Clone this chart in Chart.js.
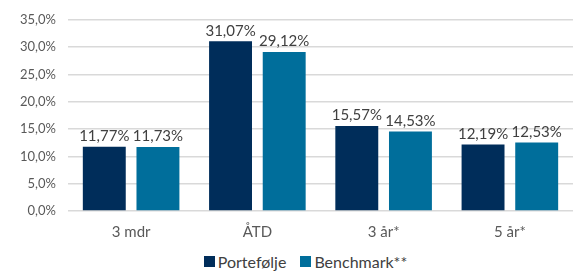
<!DOCTYPE html>
<html>
<head>
<meta charset="utf-8">
<script src="https://cdn.jsdelivr.net/npm/chart.js@4"></script>
<style>
  html, body { margin: 0; padding: 0; background: #fff; overflow: hidden; }
  #wrap { width: 575px; height: 245px; }
  #legend { width: 575px; height: 26px; display: flex; justify-content: center; align-items: center;
            font-family: Lato, sans-serif; font-size: 16px; color: #404040;
            padding-left: 36px; padding-top: 6px; box-sizing: border-box; }
  #legend span { display: inline-flex; align-items: center; margin: 0 7px; }
  #legend i { display: inline-block; width: 11px; height: 11px; margin-right: 3px; }
</style>
</head>
<body>
<div id="wrap"><canvas id="c"></canvas></div>
<div id="legend"></div>
<script>
const categories = ['3 mdr', 'ÅTD', '3 år*', '5 år*'];
const portefolje = [11.77, 31.07, 15.57, 12.19];
const benchmark = [11.73, 29.12, 14.53, 12.53];
const seriesNames = ['Portefølje', 'Benchmark**'];
const seriesColors = ['#002D5A', '#006E9B'];

const fmt = (v, d) => v.toFixed(d).replace('.', ',') + '%';

// draws the value labels above each bar
const valueLabels = {
  id: 'valueLabels',
  afterDatasetsDraw(chart) {
    const ctx = chart.ctx;
    ctx.save();
    ctx.font = '15px "Lato", sans-serif';
    ctx.fillStyle = '#404040';
    ctx.textAlign = 'center';
    ctx.textBaseline = 'bottom';
    chart.data.datasets.forEach((ds, i) => {
      chart.getDatasetMeta(i).data.forEach((bar, j) => {
        ctx.fillText(fmt(ds.data[j], 2), bar.x, bar.y - 3);
      });
    });
    ctx.restore();
  }
};

const chart = new Chart(document.getElementById('c'), {
  type: 'bar',
  data: {
    labels: categories,
    datasets: [
      { label: seriesNames[0], data: portefolje, backgroundColor: seriesColors[0] },
      { label: seriesNames[1], data: benchmark, backgroundColor: seriesColors[1] }
    ]
  },
  options: {
    responsive: true,
    maintainAspectRatio: false,
    animation: false,
    categoryPercentage: 0.85,
    barPercentage: 0.8,
    layout: { padding: { left: 8, right: 2, top: 17, bottom: 0 } },
    plugins: {
      tooltip: { enabled: false },
      legend: { display: false }
    },
    scales: {
      x: {
        grid: { display: false },
        border: { display: false },
        ticks: { color: '#595959', font: { family: 'Lato', size: 15 }, padding: 4 }
      },
      y: {
        min: 0,
        max: 35,
        ticks: {
          stepSize: 5,
          color: '#595959',
          font: { family: 'Lato', size: 13 },
          padding: 12,
          callback: v => fmt(v, 1)
        },
        grid: { color: '#d9d9d9', lineWidth: 1.5, drawTicks: false },
        border: { display: false }
      }
    }
  },
  plugins: [valueLabels]
});

// legend built from the chart's datasets
const legend = document.getElementById('legend');
chart.data.datasets.forEach(ds => {
  const item = document.createElement('span');
  const box = document.createElement('i');
  box.style.background = ds.backgroundColor;
  item.appendChild(box);
  item.appendChild(document.createTextNode(ds.label));
  legend.appendChild(item);
});
</script>
</body>
</html>
